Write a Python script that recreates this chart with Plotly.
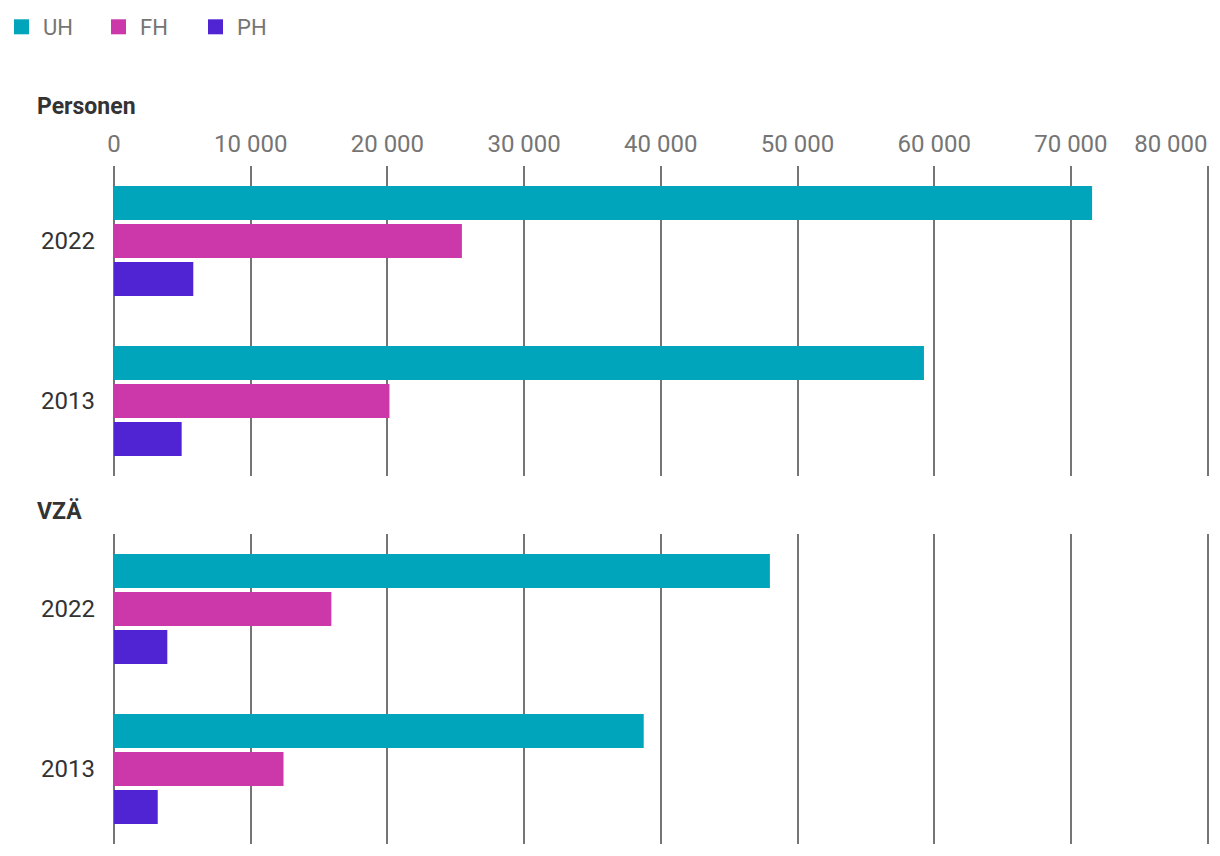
import plotly.graph_objects as go

years = ["2022", "2013"]
series = ["UH", "FH", "PH"]
colors = {"UH": "#00A4BB", "FH": "#CC37A9", "PH": "#5024D2"}

personen_uh = [71550, 59250]
personen_fh = [25450, 20150]
personen_ph = [5800, 4950]

vzae_uh = [47980, 38750]
vzae_fh = [15900, 12400]
vzae_ph = [3900, 3200]

tick_vals = [0, 10000, 20000, 30000, 40000, 50000, 60000, 70000, 80000]
tick_text = ["0", "10 000", "20 000", "30 000", "40 000", "50 000", "60 000", "70 000", ""]
last_tick_val = [80000]
last_tick_text = ["80 000"]

fig = go.Figure()
panels = [
    ("x", "y", {"UH": personen_uh, "FH": personen_fh, "PH": personen_ph}),
    ("x2", "y2", {"UH": vzae_uh, "FH": vzae_fh, "PH": vzae_ph}),
]
for xa, ya, data in panels:
    for s in series:
        fig.add_trace(go.Bar(
            y=years, x=data[s], name=s, orientation="h",
            marker=dict(color=colors[s], line=dict(width=0)),
            xaxis=xa, yaxis=ya, showlegend=False, legendgroup=s,
            hoverinfo="skip",
        ))

# legend entries with square swatches
for s in series:
    fig.add_trace(go.Scatter(
        x=[None], y=[None], mode="markers", name=s, legendgroup=s,
        marker=dict(symbol="square", size=15, color=colors[s]),
        xaxis="x", yaxis="y", showlegend=True, hoverinfo="skip",
    ))

# invisible trace anchoring the overlay axis for the last (right-aligned) tick label
fig.add_trace(go.Scatter(x=[None], y=[None], mode="markers", xaxis="x3", yaxis="y",
                         showlegend=False, hoverinfo="skip"))

font = "Roboto, Arial, sans-serif"
W, H = 1220, 856
X_MAX = 80150
px_per_unit = 1093.6 / 80000
xdom = [114 / W, (114 + X_MAX * px_per_unit) / W]
axis_common = dict(
    range=[0, X_MAX], tickvals=tick_vals, ticktext=tick_text,
    showgrid=True, gridcolor="#757575", gridwidth=2,
    zeroline=True, zerolinecolor="#757575", zerolinewidth=2,
    showline=False, ticks="", layer="above traces",
    tickfont=dict(family=font, size=24, color="#757575"),
    ticklabelstandoff=8,
    fixedrange=True,
)
yaxis_common = dict(
    type="category", range=[1.46875, -0.46875], showgrid=False, zeroline=False,
    showline=False, ticks="", ticklabelstandoff=18,
    tickfont=dict(family=font, size=24, color="#333333"), fixedrange=True,
)

fig.update_layout(
    width=W, height=H,
    margin=dict(l=0, r=0, t=0, b=0, autoexpand=False),
    paper_bgcolor="white", plot_bgcolor="white",
    barmode="group", bargap=0.2875, bargroupgap=0.105,
    font=dict(family=font),
    xaxis=dict(domain=xdom, side="top", anchor="y", **axis_common),
    xaxis2=dict(domain=xdom, anchor="y2", showticklabels=False, **axis_common),
    xaxis3=dict(domain=xdom, side="top", overlaying="x", anchor="y",
                range=[0, X_MAX], tickvals=last_tick_val, ticktext=last_tick_text,
                ticklabelposition="outside left", showgrid=False, zeroline=False,
                showline=False, ticks="", ticklabelstandoff=8,
                tickfont=dict(family=font, size=24, color="#757575"), fixedrange=True),
    yaxis=dict(domain=[1 - 476 / H, 1 - 166 / H], anchor="x", **yaxis_common),
    yaxis2=dict(domain=[1 - 844 / H, 1 - 534 / H], anchor="x2", **yaxis_common),
    legend=dict(orientation="h", x=0, y=1 - 6 / H, xanchor="left", yanchor="top",
                font=dict(family=font, size=22, color="#757575"),
                itemwidth=33, entrywidth=49, traceorder="normal"),
    annotations=[
        dict(text="<b>Personen</b>", x=35 / W, y=1 - 106 / H, xref="paper", yref="paper",
             xanchor="left", yanchor="middle", showarrow=False,
             font=dict(family=font, size=23, color="#333333")),
        dict(text="<b>VZÄ</b>", x=35 / W, y=1 - 511 / H, xref="paper", yref="paper",
             xanchor="left", yanchor="middle", showarrow=False,
             font=dict(family=font, size=23, color="#333333")),
    ],
)

fig.write_html("out.html", config={"displayModeBar": False},
               post_script="document.body.style.margin='0';document.body.style.overflow='hidden';")
